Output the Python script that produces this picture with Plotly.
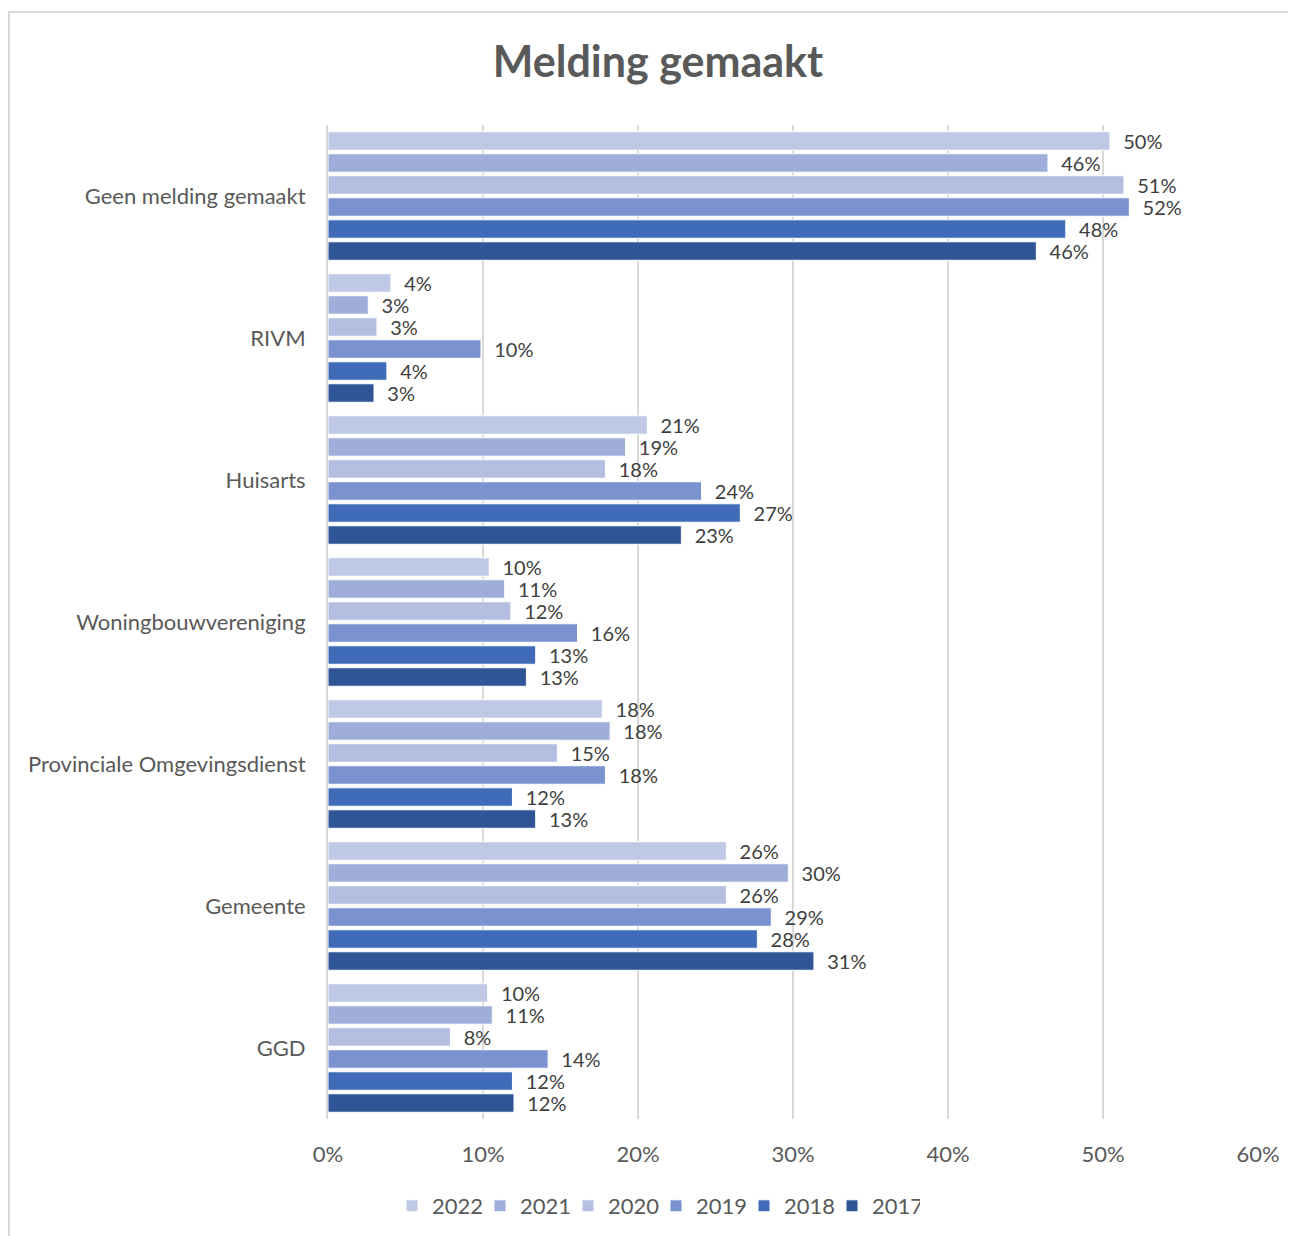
import plotly.graph_objects as go

categories = ["Geen melding gemaakt", "RIVM", "Huisarts", "Woningbouwvereniging",
              "Provinciale Omgevingsdienst", "Gemeente", "GGD"]
years = ["2022", "2021", "2020", "2019", "2018", "2017"]
v2022 = [0.5045, 0.0406, 0.206, 0.104, 0.177, 0.257, 0.103]
v2021 = [0.4645, 0.026, 0.192, 0.114, 0.182, 0.297, 0.106]
v2020 = [0.5135, 0.0316, 0.179, 0.118, 0.148, 0.257, 0.079]
v2019 = [0.517, 0.0987, 0.241, 0.161, 0.179, 0.286, 0.142]
v2018 = [0.476, 0.038, 0.266, 0.134, 0.119, 0.277, 0.119]
v2017 = [0.457, 0.0297, 0.228, 0.128, 0.134, 0.3135, 0.120]
series = [v2022, v2021, v2020, v2019, v2018, v2017]
colors = ["#BFC8E5", "#9FAED9", "#B3BEE1", "#7A93D0", "#3F6BB9", "#2F5597"]
xticks = [0, 0.1, 0.2, 0.3, 0.4, 0.5, 0.6]

FONT = "Lato"
TXT = "#404040"
W, H = 1296, 1236
L, R, T, B = 320, 46, 117, 125
PW, PH = W - L - R, H - T - B

fig = go.Figure()
for yr, vals, col in zip(years, series, colors):
    fig.add_trace(go.Bar(
        y=categories, x=vals, name=yr, orientation="h",
        marker=dict(color=col, line=dict(color="white", width=1)),
        texttemplate="  %{x:.0%}", textposition="outside",
        constraintext="none",
        textfont=dict(family=FONT, size=20, color=TXT),
        cliponaxis=False,
    ))

fig.update_layout(
    width=W, height=H,
    paper_bgcolor="white", plot_bgcolor="white",
    barmode="group", bargap=0.07, bargroupgap=0.16,
    margin=dict(l=L, r=R, t=T, b=B),
    title=dict(text="<b>Melding gemaakt</b>", x=0.5015, xanchor="center",
               y=1 - 54 / H, yanchor="middle",
               font=dict(family=FONT, size=43, color="#595959")),
    font=dict(family=FONT, size=22, color="#595959"),
    xaxis=dict(range=[0, 0.6], tickvals=xticks, tickformat=".0%",
               showgrid=True, gridcolor="#D9D9D9", gridwidth=2,
               zeroline=False, showline=False, ticks="",
               tickfont=dict(family=FONT, size=22, color="#595959"),
               ticklabelstandoff=20),
    yaxis=dict(autorange="reversed", showgrid=False, zeroline=False,
               showline=True, linecolor="#D9D9D9", linewidth=2, ticks="",
               tickfont=dict(family=FONT, size=22, color="#595959"),
               ticklabelstandoff=16),
    legend=dict(orientation="h", xref="container", x=0.5, xanchor="center",
                yref="container", y=38 / H, yanchor="middle",
                font=dict(family=FONT, size=22, color="#595959"),
                itemwidth=30, tracegroupgap=0,
                entrywidth=43, entrywidthmode="pixels"),
    shapes=[dict(type="rect", xref="paper", yref="paper",
                 x0=(1 - L) / PW, x1=(W + 10 - L) / PW,
                 y0=(T + PH - H - 10) / PH, y1=(T + PH - 4) / PH,
                 line=dict(color="#D9D9D9", width=2), fillcolor="rgba(0,0,0,0)",
                 layer="below")],
)

fig.write_html("out.html")
